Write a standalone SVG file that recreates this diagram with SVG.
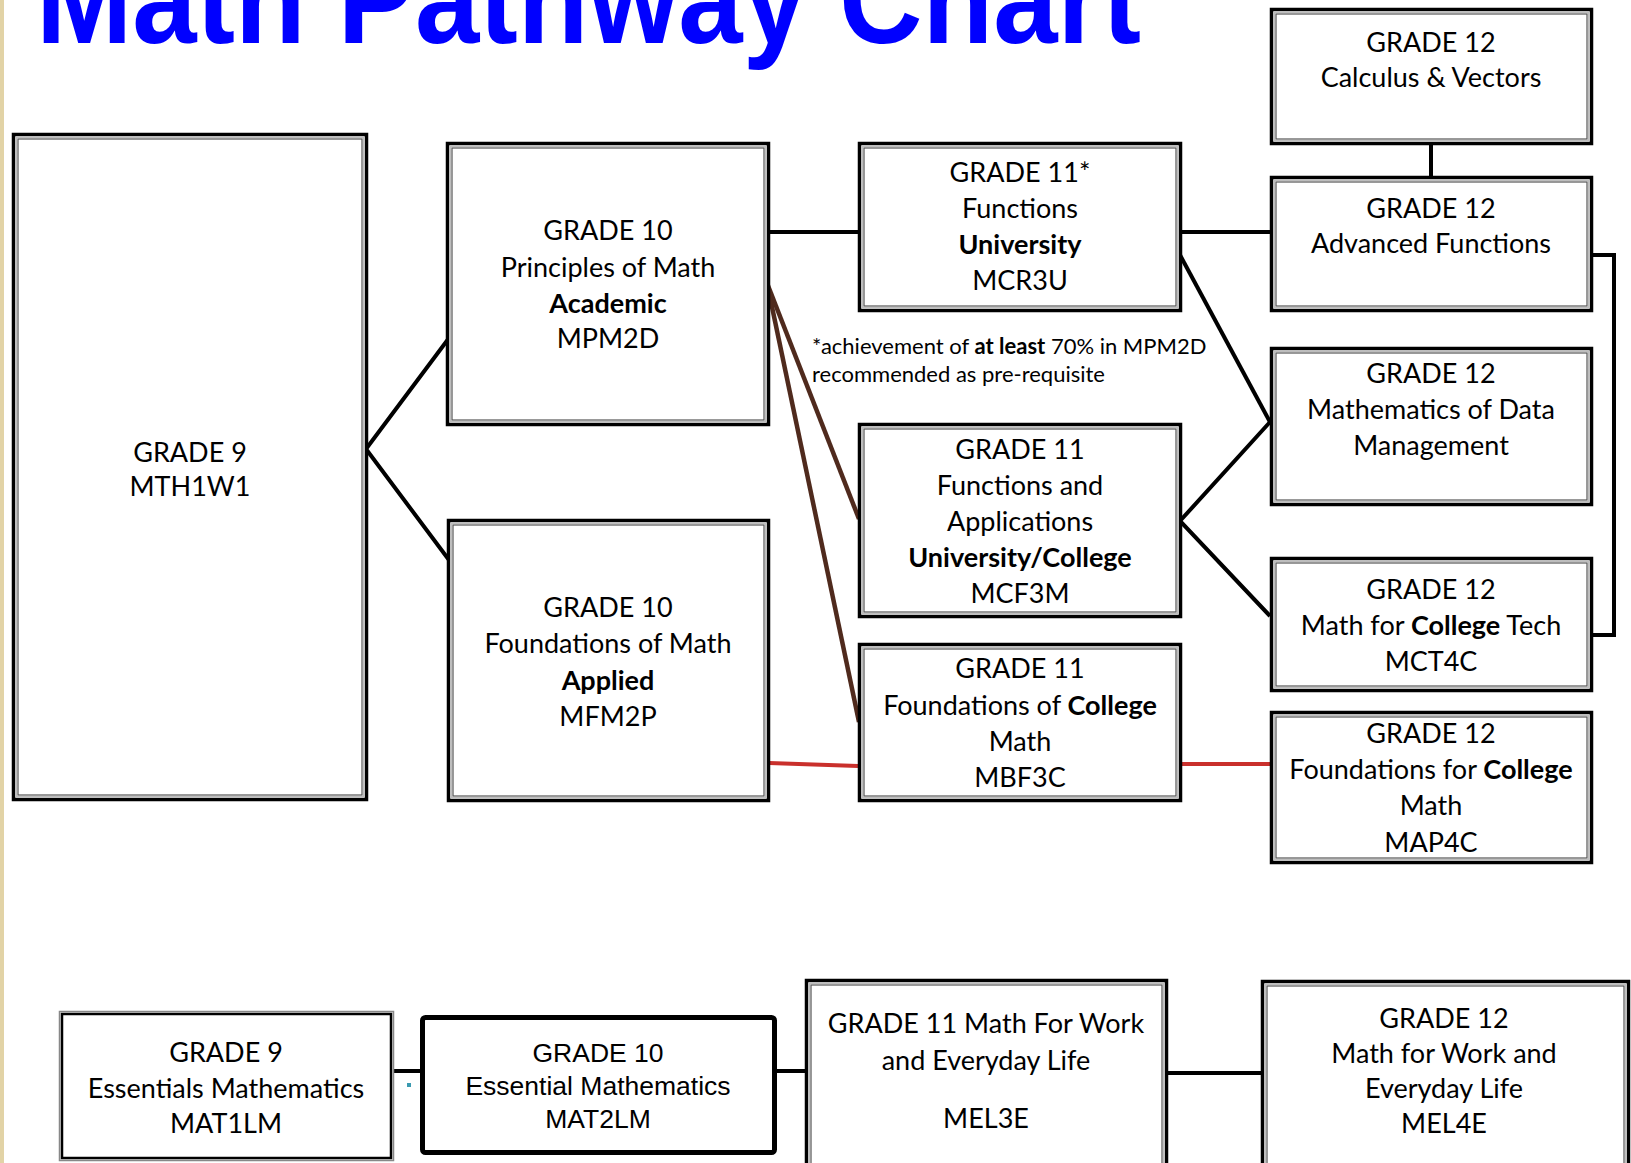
<svg xmlns="http://www.w3.org/2000/svg" width="1631" height="1163" viewBox="0 0 1631 1163">
<style>
.ob{fill:#fff;stroke:#000;stroke-width:3.5}
.mb{fill:none;stroke:#bdbdbd;stroke-width:1.2}
.ib{fill:none;stroke:#555;stroke-width:1.2}
.t{font-family:Lato,"Open Sans",sans-serif;font-size:27px;fill:#000;text-anchor:middle}
.a{font-family:"Liberation Sans",Arial,sans-serif;font-size:26.5px;fill:#000;text-anchor:middle}
.n{font-family:Lato,"Open Sans",sans-serif;font-size:22px;fill:#000}
.b{font-weight:bold}
.c{stroke:#000;stroke-width:4;fill:none}
.br{stroke:#4f2a1d;stroke-width:4.5;fill:none}
.rd{stroke:#c9302c;stroke-width:4;fill:none}
</style>
<rect x="0" y="0" width="1631" height="1163" fill="#fff"/>
<rect x="0" y="0" width="4" height="1163" fill="#e2d3a6"/>
<text x="36" y="43" font-family="'Liberation Sans',Arial,sans-serif" font-weight="bold" font-size="128" fill="#0000ff" textLength="1105" lengthAdjust="spacingAndGlyphs">Math Pathway Chart</text>

<g id="connectors">
<polyline class="c" points="449,338 366,449 449,560"/>
<line class="c" x1="770" y1="232" x2="858" y2="232"/>
<line class="c" x1="1182" y1="232" x2="1270" y2="232"/>
<line class="c" x1="1431" y1="145" x2="1431" y2="176" stroke-width="4.5"/>
<polyline class="c" points="1593,255 1614,255 1614,635 1593,635"/>
<line class="c" x1="1180" y1="255" x2="1270" y2="422"/>
<polyline class="c" points="1270,422 1180,521 1270,616"/>
<line class="br" x1="767" y1="283" x2="859" y2="519"/>
<line class="br" x1="767" y1="283" x2="859" y2="722"/>
<line class="rd" x1="769" y1="763" x2="858" y2="766"/>
<line class="rd" x1="1181" y1="764" x2="1270" y2="764"/>
<line class="c" x1="394" y1="1071" x2="420" y2="1071"/>
<line class="c" x1="777" y1="1071" x2="805" y2="1071" stroke-width="3.5"/>
<line class="c" x1="1168" y1="1073" x2="1261" y2="1073" stroke-width="5"/>
<rect x="407" y="1083" width="4" height="4" fill="#3a9ab0"/>
</g>

<g id="g9">
<rect class="ob" x="13.5" y="134.5" width="353" height="665"/>
<rect class="mb" x="16.5" y="137.5" width="347" height="659"/>
<rect class="ib" x="18" y="139" width="344" height="656"/>
<text class="t" x="190" y="462">GRADE 9</text>
<text class="t" x="190" y="496">MTH1W1</text>
</g>

<g id="g10p">
<rect class="ob" x="447.5" y="143.5" width="321" height="281"/>
<rect class="mb" x="450.5" y="146.5" width="315" height="275"/>
<rect class="ib" x="452" y="148" width="312" height="272"/>
<text class="t" x="608" y="240">GRADE 10</text>
<text class="t" x="608" y="277">Principles of Math</text>
<text class="t b" x="608" y="313">Academic</text>
<text class="t" x="608" y="348">MPM2D</text>
</g>

<g id="g10f">
<rect class="ob" x="448.5" y="520.5" width="320" height="280"/>
<rect class="mb" x="451.5" y="523.5" width="314" height="274"/>
<rect class="ib" x="453" y="525" width="311" height="271"/>
<text class="t" x="608" y="617">GRADE 10</text>
<text class="t" x="608" y="653">Foundations of Math</text>
<text class="t b" x="608" y="690">Applied</text>
<text class="t" x="608" y="726">MFM2P</text>
</g>

<g id="g11u">
<rect class="ob" x="859.5" y="143.5" width="321" height="167"/>
<rect class="mb" x="862.5" y="146.5" width="315" height="161"/>
<rect class="ib" x="864" y="148" width="312" height="158"/>
<text class="t" x="1020" y="182">GRADE 11*</text>
<text class="t" x="1020" y="218">Functions</text>
<text class="t b" x="1020" y="254">University</text>
<text class="t" x="1020" y="290">MCR3U</text>
</g>

<g id="note">
<text class="n" x="812" y="354">*achievement of <tspan font-weight="bold">at least</tspan> 70% in MPM2D</text>
<text class="n" x="812" y="382">recommended as pre-requisite</text>
</g>

<g id="g11m">
<rect class="ob" x="859.5" y="424.5" width="321" height="192"/>
<rect class="mb" x="862.5" y="427.5" width="315" height="186"/>
<rect class="ib" x="864" y="429" width="312" height="183"/>
<text class="t" x="1020" y="459">GRADE 11</text>
<text class="t" x="1020" y="495">Functions and</text>
<text class="t" x="1020" y="531">Applications</text>
<text class="t b" x="1020" y="567">University/College</text>
<text class="t" x="1020" y="603">MCF3M</text>
</g>

<g id="g11c">
<rect class="ob" x="859.5" y="644.5" width="321" height="156"/>
<rect class="mb" x="862.5" y="647.5" width="315" height="150"/>
<rect class="ib" x="864" y="649" width="312" height="147"/>
<text class="t" x="1020" y="678">GRADE 11</text>
<text class="t" x="1020" y="715">Foundations of <tspan font-weight="bold">College</tspan></text>
<text class="t" x="1020" y="751">Math</text>
<text class="t" x="1020" y="787">MBF3C</text>
</g>

<g id="g12cv">
<rect class="ob" x="1271.5" y="9.5" width="320" height="134"/>
<rect class="mb" x="1274.5" y="12.5" width="314" height="128"/>
<rect class="ib" x="1276" y="14" width="311" height="125"/>
<text class="t" x="1431" y="52">GRADE 12</text>
<text class="t" x="1431" y="87">Calculus &amp; Vectors</text>
</g>

<g id="g12af">
<rect class="ob" x="1271.5" y="177.5" width="320" height="133"/>
<rect class="mb" x="1274.5" y="180.5" width="314" height="127"/>
<rect class="ib" x="1276" y="182" width="311" height="124"/>
<text class="t" x="1431" y="218">GRADE 12</text>
<text class="t" x="1431" y="253">Advanced Functions</text>
</g>

<g id="g12dm">
<rect class="ob" x="1271.5" y="348.5" width="320" height="156"/>
<rect class="mb" x="1274.5" y="351.5" width="314" height="150"/>
<rect class="ib" x="1276" y="353" width="311" height="147"/>
<text class="t" x="1431" y="383">GRADE 12</text>
<text class="t" x="1431" y="419">Mathematics of Data</text>
<text class="t" x="1431" y="455">Management</text>
</g>

<g id="g12ct">
<rect class="ob" x="1271.5" y="558.5" width="320" height="132"/>
<rect class="mb" x="1274.5" y="561.5" width="314" height="126"/>
<rect class="ib" x="1276" y="563" width="311" height="123"/>
<text class="t" x="1431" y="599">GRADE 12</text>
<text class="t" x="1431" y="635">Math for <tspan font-weight="bold">College</tspan> Tech</text>
<text class="t" x="1431" y="671">MCT4C</text>
</g>

<g id="g12fc">
<rect class="ob" x="1271.5" y="712.5" width="320" height="150"/>
<rect class="mb" x="1274.5" y="715.5" width="314" height="144"/>
<rect class="ib" x="1276" y="717" width="311" height="141"/>
<text class="t" x="1431" y="743">GRADE 12</text>
<text class="t" x="1431" y="779">Foundations for <tspan font-weight="bold">College</tspan></text>
<text class="t" x="1431" y="815">Math</text>
<text class="t" x="1431" y="852">MAP4C</text>
</g>

<g id="g9e">
<rect x="59.5" y="1011.5" width="334" height="149" fill="#fff" stroke="#888" stroke-width="1.5"/>
<rect x="62" y="1014" width="329" height="144" fill="none" stroke="#000" stroke-width="2.5"/>
<text class="t" x="226" y="1062">GRADE 9</text>
<text class="t" x="226" y="1098">Essentials Mathematics</text>
<text class="t" x="226" y="1133">MAT1LM</text>
</g>

<g id="g10e">
<rect x="422.5" y="1017.5" width="352" height="135" rx="3" fill="#fff" stroke="#000" stroke-width="5"/>
<text class="a" x="598" y="1062">GRADE 10</text>
<text class="a" x="598" y="1095">Essential Mathematics</text>
<text class="a" x="598" y="1128">MAT2LM</text>
</g>

<g id="g11w">
<rect class="ob" x="806.5" y="980.5" width="360" height="200"/>
<rect class="mb" x="809.5" y="983.5" width="354" height="194"/>
<rect class="ib" x="811" y="985" width="351" height="191"/>
<text class="t" x="986" y="1033">GRADE 11 Math For Work</text>
<text class="t" x="986" y="1070">and Everyday Life</text>
<text class="t" x="986" y="1128">MEL3E</text>
</g>

<g id="g12w">
<rect class="ob" x="1262.5" y="981.5" width="366" height="200"/>
<rect class="mb" x="1265.5" y="984.5" width="360" height="194"/>
<rect class="ib" x="1267" y="986" width="357" height="191"/>
<text class="t" x="1444" y="1028">GRADE 12</text>
<text class="t" x="1444" y="1063">Math for Work and</text>
<text class="t" x="1444" y="1098">Everyday Life</text>
<text class="t" x="1444" y="1133">MEL4E</text>
</g>
</svg>
